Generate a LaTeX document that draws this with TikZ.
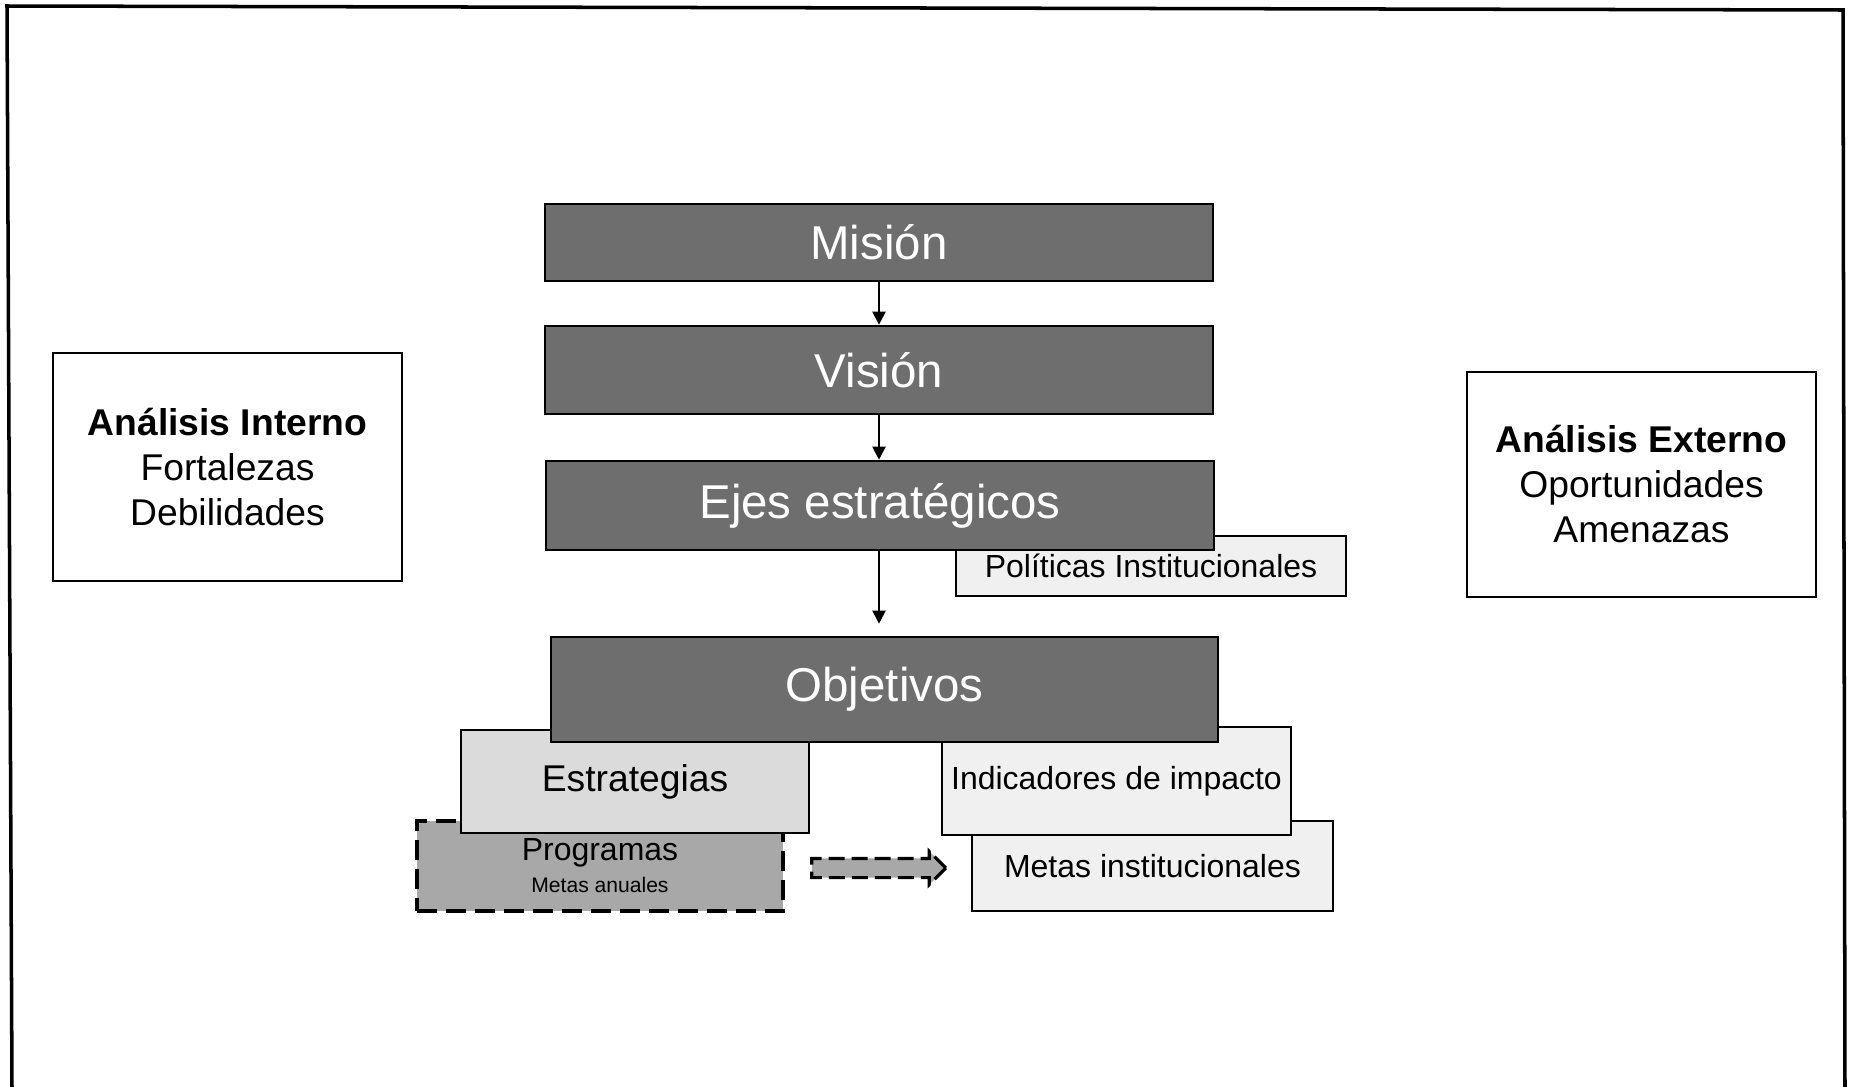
\documentclass[tikz,border=0pt]{standalone}
\usepackage{fontspec}
\setmainfont{Liberation Sans}
\usepackage{xcolor}
\usetikzlibrary{arrows.meta,shapes.arrows}

\definecolor{oscuro}{gray}{0.43}
\definecolor{medio}{gray}{0.66}
\definecolor{claro}{gray}{0.86}
\definecolor{clarito}{gray}{0.94}

\begin{document}
\begin{tikzpicture}[x=0.1mm, y=-0.1mm,
  every node/.style={rectangle, draw, inner sep=0pt, align=center},
  oscura/.style={fill=oscuro, line width=0.75pt, text=white, font=\fontsize{13.5}{16}\selectfont},
  clara/.style={fill=clarito, line width=0.7pt, font=\fontsize{9.1}{11}\selectfont},
  analisis/.style={fill=white, line width=0.7pt, minimum width=34.9mm, font=\fontsize{10.6}{12.8}\selectfont},
  flecha/.style={-{Triangle[length=1.3mm,width=1.3mm]}, line width=0.6pt}]
\useasboundingbox (0,0) rectangle (1850,1087);
\draw[line width=1pt] (12,1087) -- (7,6) -- (1843,10) -- (1845,1087);

\node[analisis, minimum height=22.8mm] (interno) at (227.5,467) {\textbf{Análisis Interno}\\Fortalezas\\Debilidades};
\node[analisis, minimum height=22.5mm] (externo) at (1641.5,484.5) {\textbf{Análisis Externo}\\Oportunidades\\Amenazas};

\node[fill=medio, line width=1pt, dash pattern=on 2mm off 0.9mm, minimum width=36.6mm, minimum height=9mm] (programas) at (600,866) {};
\node[draw=none, font=\fontsize{9.1}{11}\selectfont] at (600,853) {Programas};
\node[draw=none, font=\fontsize{6}{7}\selectfont] at (600,885) {Metas anuales};
\node[clara, fill=claro, minimum width=34.8mm, minimum height=10.3mm, font=\fontsize{10.6}{12.8}\selectfont] (estrategias) at (635,781.5) {Estrategias};
\node[clara, minimum width=36.1mm, minimum height=9mm] (metas) at (1152.5,866) {Metas institucionales};
\node[clara, fill=gray!12, minimum width=34.9mm, minimum height=10.8mm] (indicadores) at (1116.5,781) {Indicadores de impacto};
\node[oscura, minimum width=66.7mm, minimum height=10.5mm] (objetivos) at (884.5,689.5) {Objetivos};
\node[single arrow, fill=medio, line width=0.9pt, dash pattern=on 1.6mm off 0.7mm,
  minimum height=13.4mm, inner ysep=0.8mm, single arrow head extend=0.7mm] (avance) at (874,868) {};

\node[clara, minimum width=39mm, minimum height=6mm] (politicas) at (1151,566) {Políticas Institucionales};
\node[oscura, minimum width=66.8mm, minimum height=8.9mm] (ejes) at (880,505.5) {Ejes estratégicos};
\node[oscura, minimum width=66.8mm, minimum height=8.8mm] (vision) at (879,370) {Visión};
\node[oscura, minimum width=66.8mm, minimum height=7.7mm] (mision) at (879,242.5) {Misión};

\draw[flecha] (mision) -- (vision);
\draw[flecha] (vision) -- (vision |- ejes.north);
\draw[flecha, shorten >=1.2mm] (vision |- ejes.south) -- (vision |- objetivos.north);
\end{tikzpicture}
\end{document}
